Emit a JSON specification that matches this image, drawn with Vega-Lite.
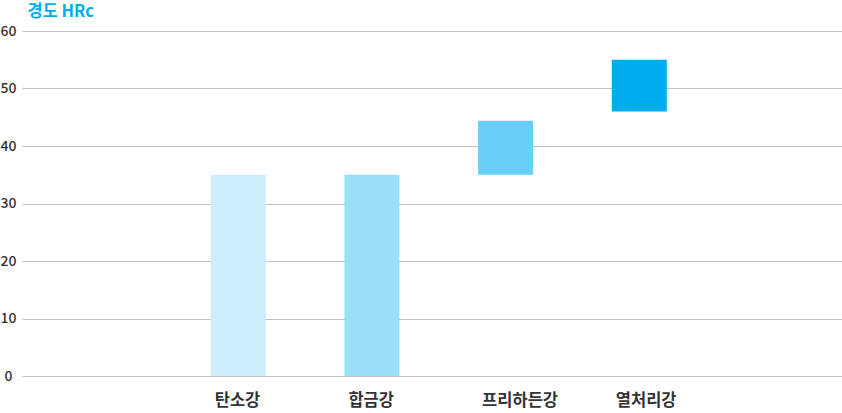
{
  "$schema": "https://vega.github.io/schema/vega-lite/v6.json",
  "autosize": "none",
  "width": 820,
  "height": 345,
  "padding": {"left": 22, "top": 31, "right": 0, "bottom": 37},
  "background": "white",
  "config": {
    "view": {"stroke": null},
    "font": "Noto Sans CJK KR"
  },
  "data": {
    "values": [
      {"steel": "탄소강", "low": 0, "high": 35},
      {"steel": "합금강", "low": 0, "high": 35},
      {"steel": "프리하든강", "low": 35, "high": 44.4},
      {"steel": "열처리강", "low": 46, "high": 55}
    ]
  },
  "mark": {"type": "bar"},
  "encoding": {
    "x": {
      "field": "steel",
      "type": "nominal",
      "sort": null,
      "scale": {
        "domain": ["_a", "탄소강", "합금강", "프리하든강", "열처리강", "_b"],
        "paddingInner": 0.5885,
        "paddingOuter": 0.361,
        "align": 0.57
      },
      "axis": {
        "title": null,
        "domain": false,
        "ticks": false,
        "labelAngle": 0,
        "labelAlign": "left",
        "labelOffset": -23.5,
        "labelExpr": "slice(datum.label, 0, 1) == '_' ? '' : datum.label",
        "labelFontSize": 16.5,
        "labelFontWeight": "bold",
        "labelColor": "#333333",
        "labelPadding": 16,
        "labelFont": "Noto Sans CJK KR"
      }
    },
    "y": {
      "field": "low",
      "type": "quantitative",
      "scale": {"domain": [0, 60], "nice": false},
      "axis": {
        "values": [0, 10, 20, 30, 40, 50, 60],
        "domain": false,
        "ticks": false,
        "grid": true,
        "gridColor": "#c0c0c0",
        "gridWidth": 1,
        "gridOpacity": 1,
        "labelAlign": "center",
        "labelPadding": 14,
        "labelFontSize": 14,
        "labelFontWeight": 500,
        "labelColor": "#333333",
        "labelFont": "Noto Sans CJK KR",
        "title": "경도 HRc",
        "titleAngle": 0,
        "titleAlign": "left",
        "titleBaseline": "alphabetic",
        "titleX": 5,
        "titleY": -15,
        "titleFontSize": 16.5,
        "titleFontWeight": "bold",
        "titleColor": "#00aeef",
        "titleFont": "Noto Sans CJK KR"
      }
    },
    "y2": {"field": "high"},
    "color": {
      "field": "steel",
      "type": "nominal",
      "scale": {
        "domain": ["탄소강", "합금강", "프리하든강", "열처리강"],
        "range": ["#ccedfa", "#99dff8", "#69cff6", "#00aeef"]
      },
      "legend": null
    }
  }
}
